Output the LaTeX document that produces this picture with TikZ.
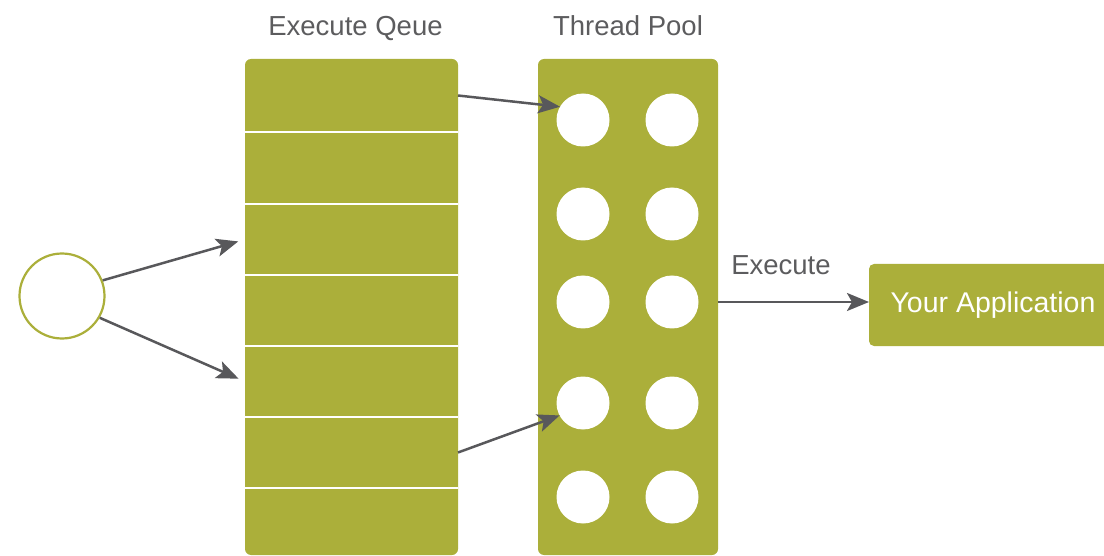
\documentclass[tikz,border=0pt]{standalone}
\usepackage{fontspec}
\setmainfont{Liberation Sans}
\usetikzlibrary{arrows.meta}
\definecolor{myolive}{HTML}{ABAF3A}
\definecolor{mygray}{HTML}{58585B}
\definecolor{mytext}{HTML}{5C5C5E}
\tikzset{
  panel/.style={fill=myolive, draw=none, rounded corners=6pt, inner sep=0pt, outer sep=0pt},
  rowbox/.style={draw=none, inner sep=0pt, outer sep=0pt, minimum width=213pt},
  sep/.style={draw=white, line width=2.4pt},
  thread/.style={circle, fill=white, draw=none, minimum size=53pt, inner sep=0pt, outer sep=0pt},
  arr/.style={draw=mygray, line width=2.5pt, -{Stealth[length=22pt,width=18pt,inset=5pt]}},
  title/.style={text=mytext, font=\fontsize{27.5}{30}\selectfont, inner sep=0pt, anchor=base},
}
\begin{document}
\begin{tikzpicture}[x=1pt,y=-1pt]
\useasboundingbox (0,0) rectangle (1104,556);
% titles
\node[title] (tq) at (355.5,36) {Execute Qeue};
\node[title] (tp) at (628,36) {Thread Pool};
% queue
\node[panel, minimum width=213pt, minimum height=496pt] (queue) at (351.5,307) {};
\node[rowbox, minimum height=73pt] (q1) at (351.5,95.5) {};
\node[rowbox, minimum height=72pt] (q2) at (351.5,168) {};
\node[rowbox, minimum height=71pt] (q3) at (351.5,239.5) {};
\node[rowbox, minimum height=71pt] (q4) at (351.5,310.5) {};
\node[rowbox, minimum height=71pt] (q5) at (351.5,381.5) {};
\node[rowbox, minimum height=71pt] (q6) at (351.5,452.5) {};
\node[rowbox, minimum height=67pt] (q7) at (351.5,521.5) {};
\foreach \r in {q1,q2,q3,q4,q5,q6}{
  \draw[sep] (\r.south west) -- (\r.south east);
}
% pool
\node[panel, minimum width=180pt, minimum height=496pt] (pool) at (628,307) {};
\foreach \i/\y in {1/120,2/214,3/302,4/403,5/497}{
  \node[thread] (t\i1) at (583,\y) {};
  \node[thread] (t\i2) at (672,\y) {};
}
% source
\node[circle, draw=myolive, line width=2.2pt, fill=white, minimum size=85pt, inner sep=0pt] (src) at (62,296) {};
% application
\node[panel, rounded corners=5pt, minimum width=248pt, minimum height=82pt, text=white,
      font=\fontsize{28.5}{30}\selectfont] (app) at (993,305) {Your Application};
% arrows
\draw[arr, shorten >=7pt] (src.21) -- (q3.west);
\draw[arr, shorten >=7pt] (src.-30) -- (q5.west);
\draw[arr] (q1.east) -- (t11.150);
\draw[arr] (q6.east) -- (t41.208);
\draw[arr] (pool.east |- t32) -- (app.west |- t32);
\node[title] (lex) at (781,275) {Execute};
\end{tikzpicture}
\end{document}
